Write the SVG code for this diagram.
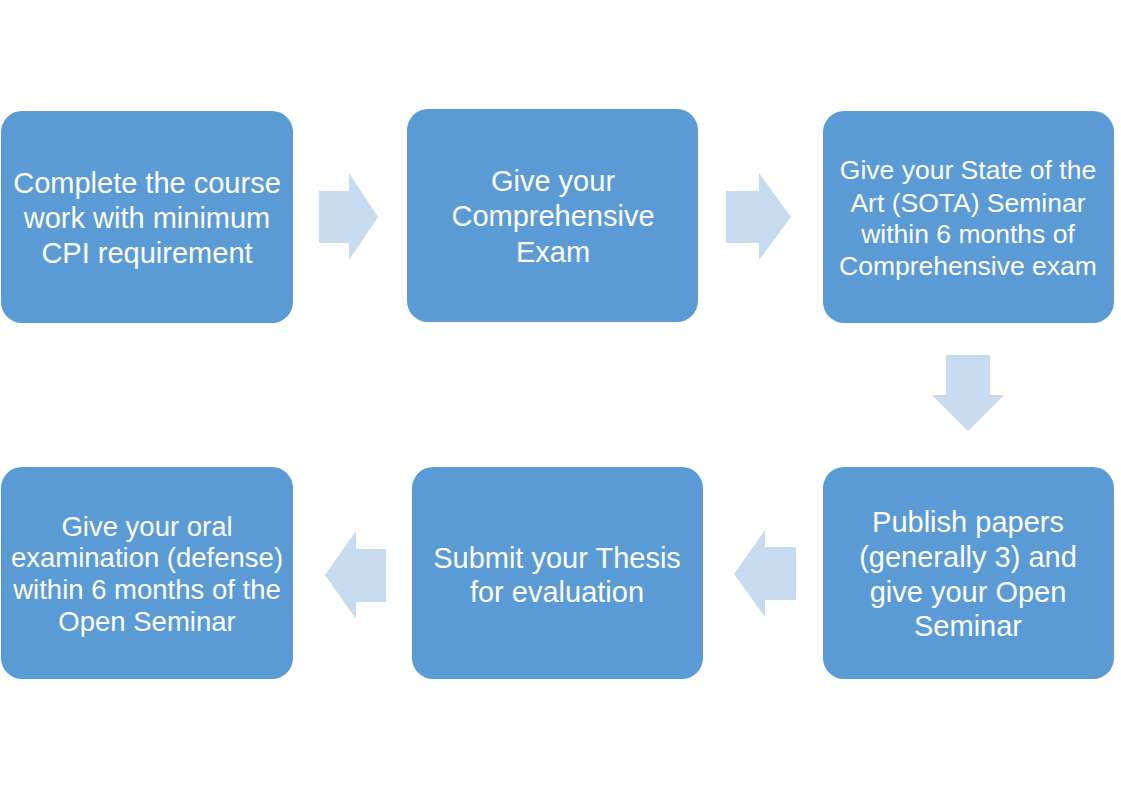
<svg xmlns="http://www.w3.org/2000/svg" width="1121" height="793" viewBox="0 0 1121 793">
<style>
.box{fill:#5B9BD5;}
.arr{fill:#C6DBEF;}
text{font-family:"Liberation Sans",Arial,sans-serif;fill:#FFFFFF;text-anchor:middle;}
.l{font-size:29px;}
.s{font-size:26.5px;}
.m{font-size:27.5px;}
</style>
<rect width="1121" height="793" fill="#FFFFFF"/>
<g id="connectors">
<polygon class="arr" points="319,191 349,191 349,173 378,217 349,260 349,243 319,243"/>
<polygon class="arr" points="726,191 759,191 759,173 791,217 759,260 759,243 726,243"/>
<polygon class="arr" points="946,355 990,355 990,395 1004,395 968,431 932,395 946,395"/>
<polygon class="arr" points="796,547 765,547 765,530 734,574 765,617 765,600 796,600"/>
<polygon class="arr" points="386,549 356,549 356,531 325,575 356,619 356,602 386,602"/>
</g>
<g id="n1">
<rect class="box" x="1" y="111" width="292" height="212" rx="21"/>
<text class="l" x="147" y="193">Complete the course</text>
<text class="l" x="147" y="228">work with minimum</text>
<text class="l" x="147" y="263">CPI requirement</text>
</g>
<g id="n2">
<rect class="box" x="407" y="109" width="291" height="213" rx="21"/>
<text class="l" x="553" y="191">Give your</text>
<text class="l" x="553" y="226">Comprehensive</text>
<text class="l" x="553" y="262">Exam</text>
</g>
<g id="n3">
<rect class="box" x="823" y="111" width="291" height="212" rx="21"/>
<text class="s" x="968" y="179">Give your State of the</text>
<text class="s" x="968" y="212">Art (SOTA) Seminar</text>
<text class="s" x="968" y="243">within 6 months of</text>
<text class="s" x="968" y="275">Comprehensive exam</text>
</g>
<g id="n4">
<rect class="box" x="823" y="467" width="291" height="212" rx="21"/>
<text class="l" x="968" y="532">Publish papers</text>
<text class="l" x="968" y="567">(generally 3) and</text>
<text class="l" x="968" y="602">give your Open</text>
<text class="l" x="968" y="636">Seminar</text>
</g>
<g id="n5">
<rect class="box" x="412" y="467" width="291" height="212" rx="21"/>
<text class="l" x="557" y="568">Submit your Thesis</text>
<text class="l" x="557" y="602">for evaluation</text>
</g>
<g id="n6">
<rect class="box" x="1" y="467" width="292" height="212" rx="21"/>
<text class="m" x="147" y="536">Give your oral</text>
<text class="m" x="147" y="567">examination (defense)</text>
<text class="m" x="147" y="599">within 6 months of the</text>
<text class="m" x="147" y="631">Open Seminar</text>
</g>
</svg>
